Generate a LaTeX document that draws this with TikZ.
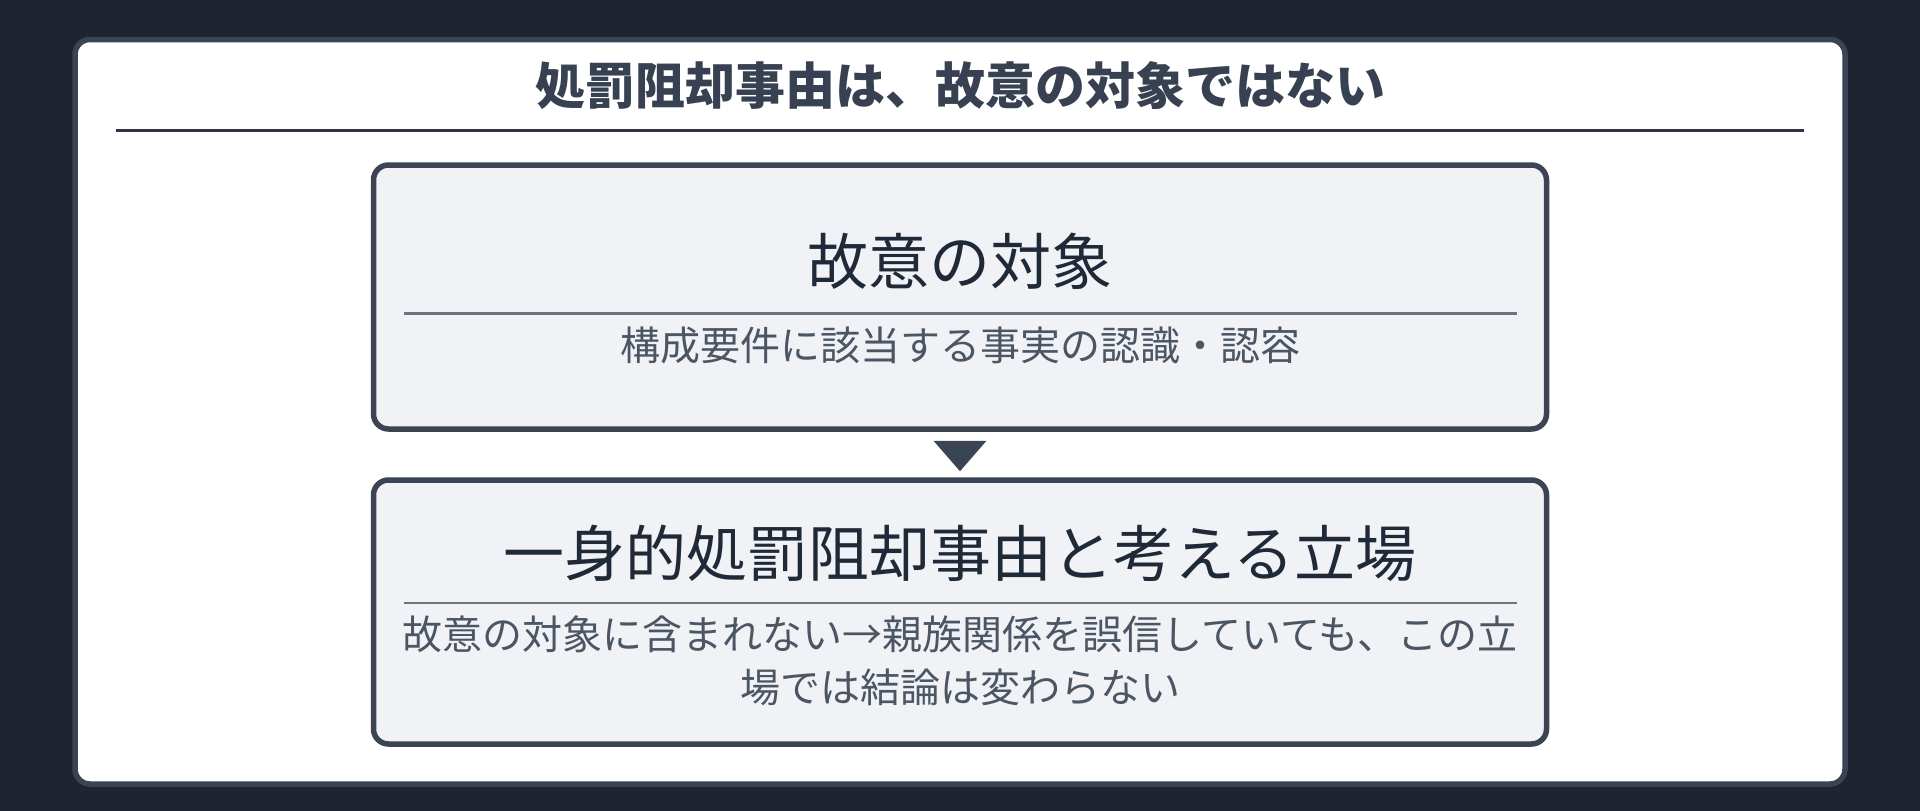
\documentclass[tikz,border=0pt]{standalone}
\usepackage{fontspec}
\setmainfont{Noto Sans CJK JP}
\definecolor{bgdark}{HTML}{1E2530}
\definecolor{slate}{HTML}{3B4453}
\definecolor{boxfill}{HTML}{F0F2F5}
\definecolor{titletext}{HTML}{374151}
\definecolor{headtext}{HTML}{1F2937}
\definecolor{subtext}{HTML}{4B5563}
\definecolor{rulegray}{HTML}{6B7280}
\definecolor{ruledark}{HTML}{2F3541}
\tikzset{
  panel/.style={draw=slate, line width=5.5pt, fill=boxfill, rounded corners=15pt,
    minimum width=1173pt, minimum height=264pt, inner sep=0pt},
  head/.style={text=headtext, font=\fontsize{61}{70}\selectfont, inner sep=0pt},
  sub/.style={text=subtext, font=\fontsize{40}{53}\selectfont, inner sep=0pt, align=center},
}
\begin{document}
\begin{tikzpicture}[x=1pt,y=-1pt]
\useasboundingbox[fill=bgdark] (0,0) rectangle (1920,811);
\draw[slate, line width=5.5pt, fill=white, rounded corners=15pt] (75,39.5) rectangle (1845,784);
\node[text=titletext, font=\bfseries\fontsize{50}{60}\selectfont, inner sep=0pt] (title) at (960,86) {処罰阻却事由は、故意の対象ではない};
\draw[ruledark, line width=2.5pt] (116,130.5) -- (1804,130.5);
% upper box
\node[panel] (obj) at (960,297) {};
\node[head] (objhead) at (960,261) {故意の対象};
\draw[rulegray, line width=2.5pt] (404,313.5) -- (1517,313.5);
\node[sub] (objsub) at (960,345) {構成要件に該当する事実の認識・認容};
% lower box
\node[panel] (pos) at (960,612) {};
\node[head] (poshead) at (960,553) {一身的処罰阻却事由と考える立場};
\draw[rulegray, line width=2.5pt] (404,603) -- (1517,603);
\node[sub] (possub) at (960,660.5) {故意の対象に含まれない→親族関係を誤信していても、この立\\場では結論は変わらない};
% arrow marker
\fill[slate] ([xshift=-26.5pt,yshift=-9pt]obj.south) -- ([xshift=26.5pt,yshift=-9pt]obj.south)
  -- ([yshift=6pt]pos.north) -- cycle;
\end{tikzpicture}
\end{document}
